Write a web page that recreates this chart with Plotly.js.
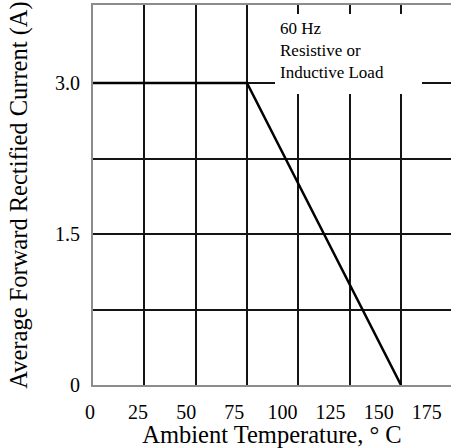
<!DOCTYPE html>
<html>
<head>
<meta charset="utf-8">
<script src="https://cdn.plot.ly/plotly-3.0.1.min.js"></script>
<style>html,body{margin:0;padding:0;background:#fff;}#chart{width:451px;height:448px;}</style>
</head>
<body>
<div id="chart"></div>
<script>
// Data (temperature in °C, current in A)
var temperature = [0, 80, 160];
var current = [3.0, 3.0, 0];

// Axis tick labels
var xTickValues = [0, 25, 50, 75, 100, 125, 150, 175];
var xTickLabels = ['0', '25', '50', '75', '100', '125', '150', '175'];
var yTickValues = [0, 0.75, 1.5, 2.25, 3.0];
var yTickLabels = ['0', '', '1.5', '', '3.0'];

var noteLines = ['60 Hz', 'Resistive or', 'Inductive Load'];

var serif = 'Liberation Serif, Times New Roman, serif';

var trace = {
  x: temperature,
  y: current,
  type: 'scatter',
  mode: 'lines',
  line: {color: '#000', width: 2.5},
  hoverinfo: 'skip',
  showlegend: false
};

var layout = {
  width: 451,
  height: 448,
  margin: {l: 93, r: 0, t: 5, b: 63},
  paper_bgcolor: '#fff',
  plot_bgcolor: '#fff',
  font: {family: serif, color: '#000'},
  showlegend: false,
  xaxis: {
    range: [0, 186],
    tickmode: 'array',
    tickvals: xTickValues,
    ticktext: xTickLabels,
    ticks: '',
    ticklabelstandoff: 8,
    ticklabelshift: -3,
    tickfont: {family: serif, size: 20, color: '#000'},
    showgrid: false,
    minor: {tick0: 0, dtick: 80 / 3, showgrid: true, gridcolor: '#141414', gridwidth: 2, ticks: ''},
    zeroline: false,
    showline: true,
    mirror: true,
    linecolor: '#8c8c8c',
    linewidth: 2,
    fixedrange: true,
    automargin: false,
    title: {text: 'Ambient Temperature, ° C', font: {family: serif, size: 24.5, color: '#000'}, standoff: 3}
  },
  yaxis: {
    range: [0, 3.775],
    tickmode: 'array',
    tickvals: yTickValues,
    ticktext: yTickLabels,
    ticks: '',
    ticklabelstandoff: 7,
    tickfont: {family: serif, size: 20, color: '#000'},
    showgrid: true,
    gridcolor: '#141414',
    gridwidth: 2,
    zeroline: false,
    showline: true,
    linecolor: '#8c8c8c',
    linewidth: 2,
    fixedrange: true,
    automargin: false,
    title: {text: 'Average Forward Rectified Current (A)', font: {family: serif, size: 24.5, color: '#000'}, standoff: 20}
  },
  annotations: [{
    xref: 'paper', yref: 'paper',
    x: 0.5084, y: 0.9763,
    xanchor: 'left', yanchor: 'top',
    text: noteLines.join('<br>'),
    align: 'left', valign: 'top',
    showarrow: false,
    bgcolor: '#fff',
    borderpad: 5,
    borderwidth: 0,
    width: 137, height: 70,
    font: {family: serif, size: 17, color: '#000'}
  }]
};

Plotly.newPlot('chart', [trace], layout, {displayModeBar: false, staticPlot: true});
</script>
</body>
</html>
